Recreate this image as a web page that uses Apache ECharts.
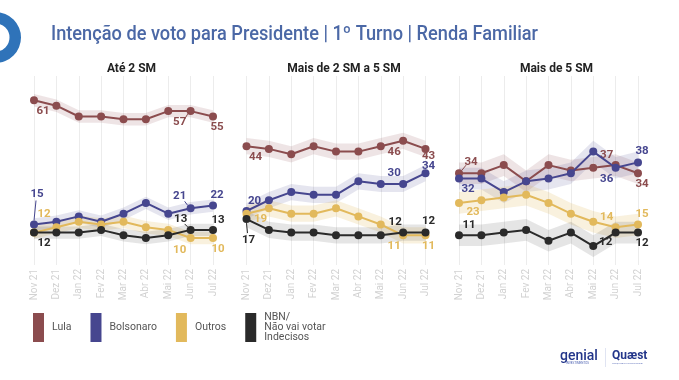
<!DOCTYPE html>
<html>
<head>
<meta charset="utf-8">
<script src="https://cdn.jsdelivr.net/npm/echarts@6/dist/echarts.min.js"></script>
<style>
html,body{margin:0;padding:0;background:#fff;}
#c{width:679px;height:380px;}
</style>
</head>
<body>
<div id="c"></div>
<script>
// ---- data ----
const months = ['Nov 21','Dez 21','Jan 22','Fev 22','Mar 22','Abr 22','Mai 22','Jun 22','Jul 22'];
const panelTitles = ['Até 2 SM','Mais de 2 SM a 5 SM','Mais de 5 SM'];
const seriesNames = ['Lula','Bolsonaro','Outros','NBN'];

const lulaAte2      = [61, 59, 55, 55, 54, 54, 57, 57, 55];
const bolsonaroAte2 = [15, 16, 18, 16, 19, 23, 19, 21, 22];
const outrosAte2    = [12, 14, 16, 15, 16, 14, 13, 10, 10];
const nbnAte2       = [12, 12, 12, 13, 11, 10, 11, 13, 13];

const lula2a5       = [44, 43, 41, 44, 42, 42, 44, 46, 43];
const bolsonaro2a5  = [20, 24, 27, 26, 26, 31, 30, 30, 34];
const outros2a5     = [19, 21, 19, 19, 21, 18, 15, 11, 11];
const nbn2a5        = [17, 13, 12, 12, 11, 11, 11, 12, 12];

const lulaMais5      = [34, 34, 37, 31, 37, 35, 36, 37, 34];
const bolsonaroMais5 = [32, 32, 27, 31, 32, 34, 42, 36, 38];
const outrosMais5    = [23, 24, 25, 26, 23, 19, 16, 14, 15];
const nbnMais5       = [11, 11, 12, 13,  9, 12,  7, 12, 12];

// margin of error band half-width per panel (points)
const bandHalfWidth = [2.3, 3, 4];

// ---- layout / style ----
const panels = [
  [lulaAte2, bolsonaroAte2, outrosAte2, nbnAte2],
  [lula2a5, bolsonaro2a5, outros2a5, nbn2a5],
  [lulaMais5, bolsonaroMais5, outrosMais5, nbnMais5]
];
const colors = ['#8b4c4e', '#46468f', '#e2b95c', '#2a2a2a'];
const bandColors = ['rgba(139,76,78,0.15)', 'rgba(70,70,143,0.14)', 'rgba(226,185,92,0.2)', 'rgba(42,42,42,0.12)'];
const gridLefts = [34, 246.5, 459];
const gridWidth = 179;

// labelled points: [panel, series, dataIndex, dx, dy]
const labelSpots = [
 [0,0,0,9,11],[0,0,7,-11,11],[0,0,8,4,11],
 [0,1,0,3,-30],[0,1,7,-11,-12],[0,1,8,4,-10],
 [0,2,0,10,-18],[0,2,7,-11,12],[0,2,8,5,11],
 [0,3,0,10,11],[0,3,7,-10,-11],[0,3,8,5,-10],
 [1,0,0,9,11],[1,0,7,-9,11],[1,0,8,3,7],
 [1,1,0,8,-10],[1,1,7,-9,-11],[1,1,8,3,-7],
 [1,2,0,14,5],[1,2,7,-9,11],[1,2,8,3,11],
 [1,3,0,2,21],[1,3,7,-8,-10],[1,3,8,3,-11],
 [2,0,0,12,-11],[2,0,7,-9,-10],[2,0,8,4,11],
 [2,1,0,9,11],[2,1,7,-9,11],[2,1,8,4,-11],
 [2,2,0,14,9],[2,2,7,-9,-10],[2,2,8,4,-10],
 [2,3,0,10,-10],[2,3,7,-10,10],[2,3,8,4,11]
];
// leader lines: [panel, series, dataIndex, x1, y1, x2, y2] relative to the point
const leaderSpots = [
 [0,1,0, 2,-24, 0,-4],
 [0,0,7, -6,8, -3,3],
 [0,1,7, -6,-7, -3,-3],
 [0,3,7, -6,-6, -3,-3],
 [1,3,0, 1,14, 0,4],
 [2,0,0, 7,-8, 3,-3]
];

const chart = echarts.init(document.getElementById('c'), null, {renderer: 'canvas'});

const grids = [], xAxes = [], yAxes = [], series = [];
panels.forEach((lines, p) => {
  grids.push({left: gridLefts[p], width: gridWidth, top: 76, height: 189, containLabel: false});
  xAxes.push({
    type: 'category', gridIndex: p, data: months, boundaryGap: false,
    axisLine: {show: false}, axisTick: {show: false},
    splitLine: {show: true, lineStyle: {color: '#ececec', width: 1}},
    axisLabel: {rotate: 90, margin: 4, color: '#d2d2d2', fontSize: 10, fontFamily: 'Roboto'}
  });
  yAxes.push({type: 'value', gridIndex: p, min: 0, max: 70, show: false, splitLine: {show: false}});
  const m = bandHalfWidth[p];
  lines.forEach((vals, s) => {
    const st = 'band' + p + '_' + s;
    series.push({
      type: 'line', name: 'band', xAxisIndex: p, yAxisIndex: p, stack: st, silent: true,
      data: vals.map(v => v - m), symbol: 'none', lineStyle: {opacity: 0}, z: 1
    });
    series.push({
      type: 'line', name: 'band', xAxisIndex: p, yAxisIndex: p, stack: st, silent: true,
      data: vals.map(() => 2 * m), symbol: 'none', lineStyle: {opacity: 0},
      areaStyle: {color: bandColors[s], opacity: 1}, z: 1
    });
  });
  lines.forEach((vals, s) => {
    const data = vals.map((v, i) => {
      const spot = labelSpots.find(l => l[0] === p && l[1] === s && l[2] === i);
      if (!spot) return v;
      return {value: v, label: {show: true, position: 'inside', offset: [spot[3], spot[4]]}};
    });
    series.push({
      type: 'line', name: seriesNames[s], xAxisIndex: p, yAxisIndex: p, data,
      symbol: 'circle', symbolSize: 8, z: 3 + s,
      lineStyle: {color: colors[s], width: 2}, itemStyle: {color: colors[s]},
      label: {show: false, color: colors[s], fontSize: 11.5, fontWeight: 'bold', fontFamily: 'Roboto'},
      emphasis: {disabled: true}
    });
  });
});

const baseGraphic = [
  {type: 'ring', shape: {cx: -4.5, cy: 37.5, r: 25.5, r0: 14}, style: {fill: '#2f73b9'}},
  {type: 'text', x: 51, y: 35, scaleX: 0.91,
   style: {text: 'Intenção de voto para Presidente | 1º Turno | Renda Familiar', fill: '#4b68a6',
           font: '500 20px Roboto', verticalAlign: 'middle'}},
  {type: 'text', x: 560, y: 356, style: {text: 'genial', fill: '#23368a', font: '500 14px Roboto', verticalAlign: 'middle'}},
  {type: 'text', x: 566, y: 363.5, style: {text: 'INVESTIMENTOS', fill: '#4a5fb0', font: '3px Roboto', verticalAlign: 'middle'}},
  {type: 'rect', shape: {x: 605, y: 348, width: 0.8, height: 19}, style: {fill: '#d8deef'}},
  {type: 'text', x: 612, y: 356, style: {text: 'Quæst', fill: '#23368a', font: 'bold 12px Roboto', verticalAlign: 'middle'}},
  {type: 'text', x: 612, y: 363.5, style: {text: 'PESQUISA E CONSULTORIA', fill: '#6a7bbf', font: '2.5px Roboto', verticalAlign: 'middle'}}
];

const option = {
  animation: false,
  backgroundColor: '#ffffff',
  grid: grids, xAxis: xAxes, yAxis: yAxes, series,
  title: panelTitles.map((t, p) => ({
    text: t, left: gridLefts[p] + gridWidth / 2 + 3, top: 58, textAlign: 'center',
    textStyle: {fontSize: 12, fontWeight: 'bold', color: '#222', fontFamily: 'Roboto'}
  })),
  legend: {
    data: seriesNames, left: 33, top: 312, orient: 'horizontal', padding: 0,
    icon: 'rect', itemWidth: 11, itemHeight: 29, itemGap: 19, selectedMode: false,
    formatter: n => n === 'NBN' ? 'NBN/\nNão vai votar\nIndecisos' : n,
    textStyle: {fontSize: 10.5, color: '#555', fontFamily: 'Roboto', lineHeight: 10, padding: [0, 0, 0, 3]}
  },
  graphic: baseGraphic
};
chart.setOption(option);

// leader lines placed through the chart's own coordinate conversion
const leaders = leaderSpots.map(l => {
  const [p, s, i, x1, y1, x2, y2] = l;
  const pt = chart.convertToPixel({gridIndex: p}, [i, panels[p][s][i]]);
  return {type: 'line', z: 10, shape: {x1: pt[0] + x1, y1: pt[1] + y1, x2: pt[0] + x2, y2: pt[1] + y2},
          style: {stroke: colors[s], lineWidth: 1}};
});
chart.setOption({graphic: baseGraphic.concat(leaders)});
</script>
</body>
</html>
